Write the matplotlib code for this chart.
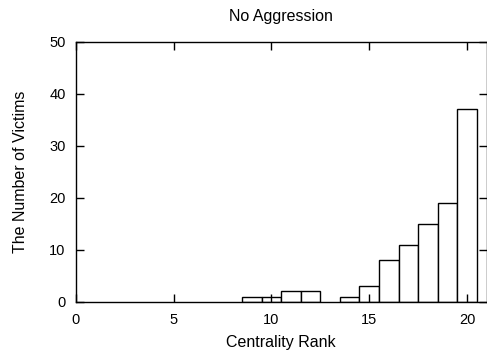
import matplotlib
matplotlib.use("Agg")
import matplotlib.pyplot as plt

ranks = [9, 10, 11, 12, 14, 15, 16, 17, 18, 19, 20]
victims = [1, 1, 2, 2, 1, 3, 8, 11, 15, 19, 37]
xticks = [0, 5, 10, 15, 20]
yticks = [0, 10, 20, 30, 40, 50]

plt.rcParams['font.family'] = ['Liberation Sans', 'DejaVu Sans']
fig = plt.figure(figsize=(4.87, 3.58), dpi=100)
ax = fig.add_axes([76/487, (358-301.7)/358, (486.5-76)/487, (301.7-41.7)/358])
ax.bar(ranks, victims, width=1.0, facecolor='white', edgecolor='black', linewidth=1.0)
ax.set_xlim(0, 21)
ax.set_ylim(0, 50)
ax.set_xticks(xticks)
ax.set_yticks(yticks)
ax.tick_params(direction='in', length=6, width=1, top=True, right=True, labelsize=10.5)
ax.tick_params(axis='y', pad=7.5)
ax.tick_params(axis='x', pad=8)
for s in ax.spines.values():
    s.set_linewidth(1.0)
ax.text(0.5, 1 + 21/260, 'No Aggression', transform=ax.transAxes, ha='center',
        va='baseline', fontsize=11.5)
ax.set_xlabel('Centrality Rank', fontsize=11.5, labelpad=6)
ax.set_ylabel('The Number of Victims', fontsize=11.5, labelpad=15)
fig.savefig('out.png', dpi=100)
